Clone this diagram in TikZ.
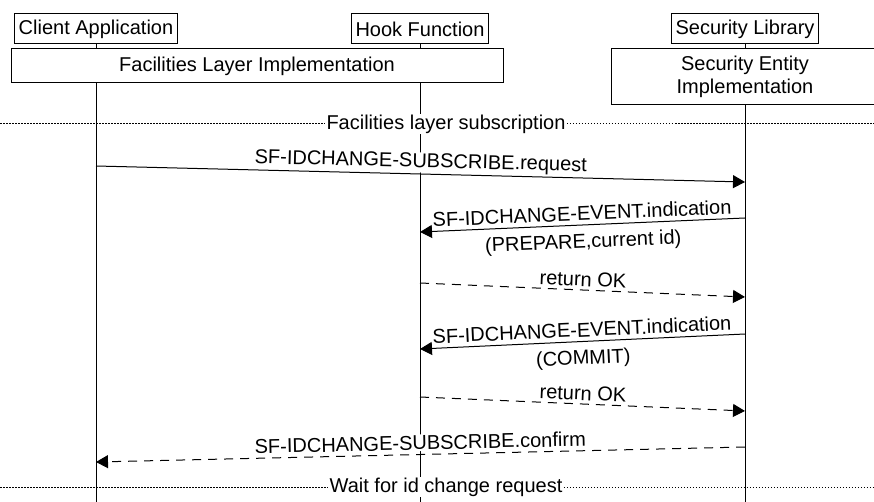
\documentclass[tikz,border=0pt]{standalone}
\usepackage{fontspec}
\setmainfont{Liberation Sans}
\usetikzlibrary{arrows.meta}

\begin{document}
\begin{tikzpicture}[x=1pt,y=1pt,line width=1pt,
    font=\fontsize{20}{23}\selectfont,
    lifebox/.style={draw,fill=white,inner xsep=4pt,inner ysep=0pt,minimum height=30pt},
    layerbox/.style={draw,fill=white,align=center,inner sep=0pt,minimum height=34pt},
    msg/.style={-{Triangle[length=12pt,width=13pt]}},
    reply/.style={msg,dash pattern=on 9pt off 7pt},
    phase/.style={dash pattern=on 1.5pt off 1.5pt},
    lbl/.style={fill=white,inner sep=1pt,sloped}]
    \useasboundingbox (0,0) rectangle (874,-502);
    \clip (0,0) rectangle (874,-502);

    % entities
    \node[lifebox] (client) at (96,-29) {Client Application};
    \node[lifebox] (hook) at (420,-29) {Hook Function};
    \node[lifebox] (seclib) at (745,-29) {Security Library};

    % lifelines
    \coordinate (clientend) at (96,-502);
    \coordinate (hookend) at (420,-502);
    \coordinate (seclibend) at (745,-502);
    \draw (client) -- (clientend);
    \draw (hook) -- (hookend);
    \draw (seclib) -- (seclibend);

    \node[layerbox,minimum width=492pt] (facil) at (257,-66) {Facilities Layer Implementation};
    \node[layerbox,minimum width=268pt,minimum height=56pt] (secent) at (745,-77) {Security Entity\\Implementation};

    % phases
    \node[fill=white,inner sep=1pt] (subs) at (446,-124) {Facilities layer subscription};
    \coordinate (subsL) at (0,-124);
    \coordinate (subsR) at (874,-124);
    \draw[phase] (subsL) -- (subs.west);
    \draw[phase] (subs.east) -- (subsR);

    \node[fill=white,inner sep=1pt] (wait) at (446,-487) {Wait for id change request};
    \coordinate (waitL) at (0,-487);
    \coordinate (waitR) at (874,-487);
    \draw[phase] (waitL) -- (wait.west);
    \draw[phase] (wait.east) -- (waitR);

    % arrows
    \coordinate (m1a) at (96,-166);
    \coordinate (m1b) at (745,-182);
    \draw[msg] (m1a) -- node[lbl,above=1pt] {SF-IDCHANGE-SUBSCRIBE.request} (m1b);

    \coordinate (m2a) at (745,-218);
    \coordinate (m2b) at (420,-232);
    \draw[msg] (m2a) -- node[lbl,above=3pt] {SF-IDCHANGE-EVENT.indication}
        node[lbl,below=7pt] {(PREPARE,current id)} (m2b);

    \coordinate (m3a) at (420,-283);
    \coordinate (m3b) at (745,-297);
    \draw[reply] (m3a) -- node[lbl,above=2pt] {return OK} (m3b);

    \coordinate (m4a) at (745,-334);
    \coordinate (m4b) at (420,-349);
    \draw[msg] (m4a) -- node[lbl,above=3pt] {SF-IDCHANGE-EVENT.indication}
        node[lbl,below=7pt] {(COMMIT)} (m4b);

    \coordinate (m5a) at (420,-397);
    \coordinate (m5b) at (745,-411);
    \draw[reply] (m5a) -- node[lbl,above=2pt] {return OK} (m5b);

    \coordinate (m6a) at (745,-447);
    \coordinate (m6b) at (96,-462);
    \draw[reply] (m6a) -- node[lbl,above=3pt] {SF-IDCHANGE-SUBSCRIBE.confirm} (m6b);
\end{tikzpicture}
\end{document}
